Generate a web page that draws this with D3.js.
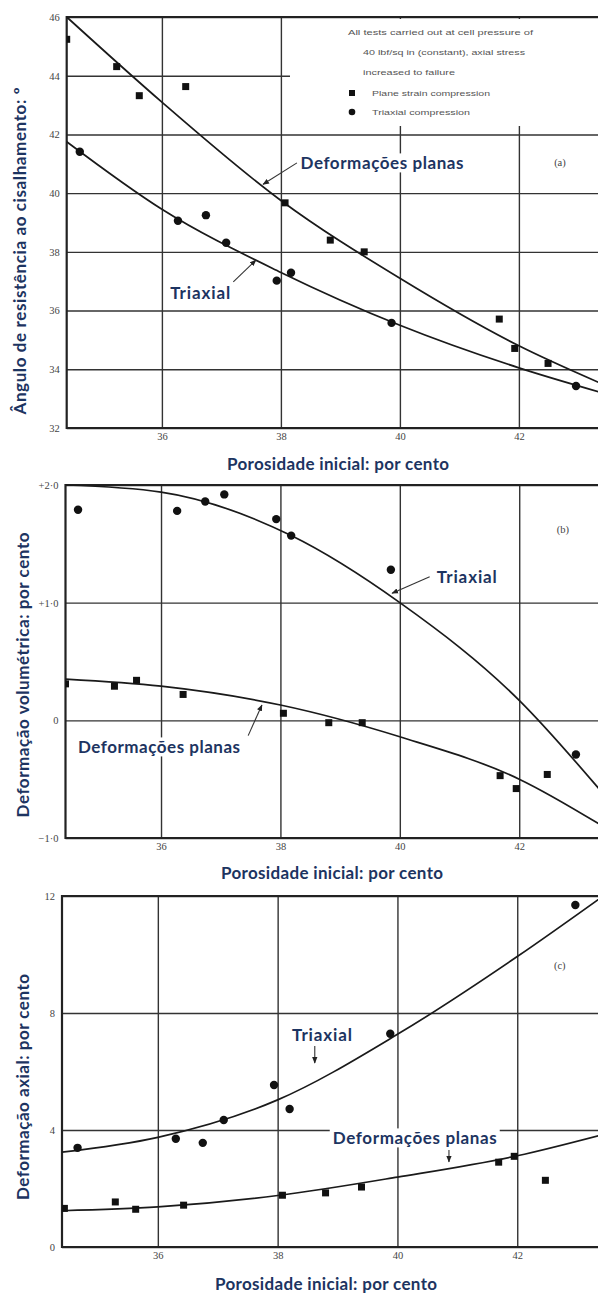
<!DOCTYPE html>
<html>
<head>
<meta charset="utf-8">
<script src="https://cdn.jsdelivr.net/npm/d3@7"></script>
<style>
  html, body { margin: 0; padding: 0; background: #fff; }
  svg { display: block; }
  .tick text { font-family: "Liberation Serif", "DejaVu Serif", serif; font-size: 10.5px; fill: #444; }
  .grid line { stroke: #333; stroke-width: 1.4; }
  .frame { stroke: #222; stroke-width: 2.2; fill: none; }
  .fit { fill: none; stroke: #1a1a1a; stroke-width: 1.7; }
  .lbl { font-family: Lato, "Open Sans", sans-serif; font-weight: 700; font-size: 17px; fill: #1d3461; }
  .tag { font-family: "Liberation Serif", "DejaVu Serif", serif; font-size: 10.5px; fill: #444; }
  .legend { font-family: "Liberation Sans", Arial, sans-serif; font-size: 7px; fill: #555; }
  .leader { stroke: #333; stroke-width: 1.1; fill: none; }
</style>
</head>
<body>
<script>
const W = 598, H = 1293;

// porosity axis (shared by all three panels)
const porosityTicks = [36, 38, 40, 42];
const porosityDomain = [34.4, 43.4];

// (a) angle of shearing resistance, degrees
const angleTicks = [32, 34, 36, 38, 40, 42, 44, 46];
const planeAngle = [[34.4,45.24],[35.24,44.31],[35.62,43.32],[36.4,43.63],[38.07,39.67],[38.83,38.4],[39.4,38.0],[41.67,35.71],[41.93,34.71],[42.49,34.2]];
const triaxAngle = [[34.62,41.41],[36.27,39.06],[36.74,39.25],[37.08,38.31],[37.93,37.02],[38.17,37.29],[39.86,35.58],[42.96,33.43]];
const planeAngleFit = [[34.4,46],[36,43.1],[38,39.75],[40,37.1],[42,34.8],[43.4,33.5]];
const triaxAngleFit = [[34.4,41.75],[36,39.45],[38,37.3],[40,35.5],[42,34.05],[43.4,33.2]];

// (b) volumetric strain, per cent
const volTicks = [-1, 0, 1, 2];
const volTickLabels = ["\u22121\u00b70", "0", "+1\u00b70", "+2\u00b70"];
const planeVol = [[34.4,0.31],[35.22,0.29],[35.59,0.34],[36.37,0.22],[38.05,0.06],[38.81,-0.02],[39.37,-0.02],[41.68,-0.47],[41.95,-0.58],[42.47,-0.46]];
const triaxVol = [[34.61,1.79],[36.27,1.78],[36.74,1.86],[37.06,1.92],[37.93,1.71],[38.18,1.57],[39.85,1.28],[42.95,-0.29]];
const planeVolFit = [[34.4,0.35],[36,0.29],[38,0.13],[40,-0.14],[42,-0.5],[43.4,-0.9]];
const triaxVolFit = [[34.4,2.0],[36,1.94],[38.18,1.57],[40,1.0],[42,0.17],[43.4,-0.62]];

// (c) axial strain, per cent
const axialTicks = [0, 4, 8, 12];
const planeAxial = [[34.44,1.32],[35.29,1.54],[35.63,1.29],[36.43,1.43],[38.08,1.77],[38.8,1.85],[39.4,2.05],[41.69,2.9],[41.95,3.1],[42.47,2.28]];
const triaxAxial = [[34.66,3.39],[36.3,3.7],[36.75,3.56],[37.1,4.34],[37.94,5.54],[38.2,4.72],[39.88,7.29],[42.97,11.69]];
const planeAxialFit = [[34.4,1.24],[36,1.37],[38,1.76],[40,2.39],[42,3.12],[43.4,3.83]];
const triaxAxialFit = [[34.4,3.24],[36,3.75],[38,5.03],[40,7.27],[42,9.93],[43.4,11.95]];

const xTitle = "Porosidade inicial: por cento";

const svg = d3.select("body").append("svg").attr("width", W).attr("height", H);
const defs = svg.append("defs");
defs.append("marker").attr("id", "arrow").attr("viewBox", "0 0 10 10")
  .attr("refX", 9).attr("refY", 5).attr("markerWidth", 6).attr("markerHeight", 6)
  .attr("orient", "auto")
  .append("path").attr("d", "M0,1L10,5L0,9z").attr("fill", "#222");

// text with a fixed run length (spacing only)
function fitText(sel, len) {
  if (len) sel.attr("textLength", len).attr("lengthAdjust", "spacing");
  return sel;
}

function drawPanel(o) {
  const g = svg.append("g");
  const x = d3.scaleLinear().domain(porosityDomain).range([o.left, o.left + 9 * o.xUnit]);
  const y = d3.scaleLinear().domain(o.yDomain).range([o.bottom, o.top]);
  const h = o.bottom - o.top;

  defs.append("clipPath").attr("id", "clip-" + o.id)
    .append("rect").attr("x", o.left).attr("y", o.top - 3)
    .attr("width", W - o.left).attr("height", h + 6);

  // grid lines + tick labels from the axes
  const gx = g.append("g").attr("class", "grid").attr("transform", `translate(0,${o.bottom})`)
    .call(d3.axisBottom(x).tickValues(porosityTicks).tickSize(-h).tickPadding(5).tickFormat(d3.format("d")));
  gx.select(".domain").remove();
  const gy = g.append("g").attr("class", "grid").attr("transform", `translate(${o.left},0)`)
    .call(d3.axisLeft(y).tickValues(o.yTicks).tickSize(-(W - o.left)).tickPadding(7)
      .tickFormat((d, i) => o.yLabels ? o.yLabels[i] : d));
  gy.select(".domain").remove();

  if (o.after) o.after(g, x, y);

  // frame: left, bottom, top
  g.append("path").attr("class", "frame")
    .attr("d", `M${W},${o.top}H${o.left}V${o.bottom}H${W}`);

  const plot = g.append("g").attr("clip-path", `url(#clip-${o.id})`);
  const line = d3.line().x(d => x(d[0])).y(d => y(d[1])).curve(d3.curveMonotoneX);
  plot.append("path").attr("class", "fit").attr("d", line(o.planeFit));
  plot.append("path").attr("class", "fit").attr("d", line(o.triaxFit));

  plot.selectAll(".sq").data(o.plane).join("rect").attr("class", "sq")
    .attr("x", d => x(d[0]) - 3.5).attr("y", d => y(d[1]) - 3.5)
    .attr("width", 7).attr("height", 7).attr("fill", "#111");
  plot.selectAll(".dot").data(o.triax).join("circle").attr("class", "dot")
    .attr("cx", d => x(d[0])).attr("cy", d => y(d[1])).attr("r", 4.2).attr("fill", "#111");

  // annotations
  o.notes.forEach(n => {
    if (n.from) {
      g.append("line").attr("class", "leader")
        .attr("x1", x(n.from[0])).attr("y1", y(n.from[1]))
        .attr("x2", x(n.to[0])).attr("y2", y(n.to[1]))
        .attr("marker-end", "url(#arrow)");
    }
    if (n.text) {
      const t = g.append("text").attr("class", n.cls || "lbl")
        .attr("x", x(n.at[0])).attr("y", y(n.at[1]))
        .attr("dominant-baseline", "central")
        .attr("text-anchor", n.anchor || "start")
        .text(n.text);
      fitText(t, n.len);
      if (!n.cls) {
        const b = t.node().getBBox();
        g.insert("rect", () => t.node())
          .attr("x", b.x - 3).attr("y", b.y + 1).attr("width", b.width + 6).attr("height", b.height - 2)
          .attr("fill", "#fff");
      }
    }
  });

  // axis titles
  fitText(g.append("text").attr("class", "lbl").attr("text-anchor", "middle")
    .attr("x", o.xTitleX).attr("y", o.xTitleY).attr("dominant-baseline", "central").text(xTitle), 222);
  fitText(g.append("text").attr("class", "lbl").attr("text-anchor", "middle")
    .attr("dominant-baseline", "central")
    .attr("transform", `translate(${o.yTitleX},${o.yTitleY}) rotate(-90)`).text(o.yTitle), o.yTitleLen);
}

// (a)
drawPanel({
  id: "a", left: 66.7, xUnit: 59.5, top: 17, bottom: 428,
  yDomain: [32, 46], yTicks: angleTicks,
  plane: planeAngle, triax: triaxAngle, planeFit: planeAngleFit, triaxFit: triaxAngleFit,
  yTitle: "Ângulo de resistência ao cisalhamento: º", yTitleX: 19, yTitleY: 251, yTitleLen: 327,
  xTitleX: 338, xTitleY: 463,
  after: (g, x, y) => {
    // space kept clear for the key
    g.append("rect").attr("x", 290).attr("y", 19).attr("width", W - 290).attr("height", 107).attr("fill", "#fff");
    const key = g.append("g");
    const lines = [
      ["All tests carried out at cell pressure of", 348, 32, 185],
      ["40 lbf/sq in (constant), axial stress", 363, 52, 162],
      ["increased to failure", 363, 72, 92],
      ["Plane strain compression", 372, 93, 118],
      ["Triaxial compression", 372, 112, 98]
    ];
    lines.forEach(l => key.append("text").attr("class", "legend").attr("x", l[1]).attr("y", l[2])
      .attr("dominant-baseline", "central").attr("textLength", l[3]).attr("lengthAdjust", "spacingAndGlyphs").text(l[0]));
    key.append("rect").attr("x", 349).attr("y", 90).attr("width", 6).attr("height", 6).attr("fill", "#111");
    key.append("circle").attr("cx", 352).attr("cy", 112).attr("r", 3.3).attr("fill", "#111");
  },
  notes: [
    { from: [38.27, 41.03], to: [37.7, 40.3], text: "Deformações planas", at: [38.33, 41.03], len: 163 },
    { from: [37.2, 36.98], to: [37.58, 37.72], text: "Triaxial", at: [36.14, 36.63], len: 60 },
    { text: "(a)", at: [42.69, 41.03], cls: "tag", anchor: "middle" }
  ]
});

// (b)
drawPanel({
  id: "b", left: 65.5, xUnit: 59.7, top: 485, bottom: 838,
  yDomain: [-1, 2], yTicks: volTicks, yLabels: volTickLabels,
  plane: planeVol, triax: triaxVol, planeFit: planeVolFit, triaxFit: triaxVolFit,
  yTitle: "Deformação volumétrica: por cento", yTitleX: 22, yTitleY: 675, yTitleLen: 285,
  xTitleX: 332, xTitleY: 872,
  notes: [
    { from: [40.5, 1.22], to: [39.87, 1.08], text: "Triaxial", at: [40.62, 1.22], len: 60 },
    { from: [37.46, -0.13], to: [37.69, 0.13], text: "Deformações planas", at: [34.61, -0.226], len: 162 },
    { text: "(b)", at: [42.73, 1.62], cls: "tag", anchor: "middle" }
  ]
});

// (c)
drawPanel({
  id: "c", left: 62, xUnit: 59.9, top: 896, bottom: 1247,
  yDomain: [0, 12], yTicks: axialTicks,
  plane: planeAxial, triax: triaxAxial, planeFit: planeAxialFit, triaxFit: triaxAxialFit,
  yTitle: "Deformação axial: por cento", yTitleX: 22, yTitleY: 1087, yTitleLen: 226,
  xTitleX: 326, xTitleY: 1283,
  notes: [
    { text: "Triaxial", at: [38.24, 7.25], len: 60 },
    { from: [38.62, 6.87], to: [38.62, 6.29] },
    { text: "Deformações planas", at: [38.92, 3.73], len: 164 },
    { from: [40.86, 3.32], to: [40.86, 2.91] },
    { text: "(c)", at: [42.71, 9.64], cls: "tag", anchor: "middle" }
  ]
});
</script>
</body>
</html>
